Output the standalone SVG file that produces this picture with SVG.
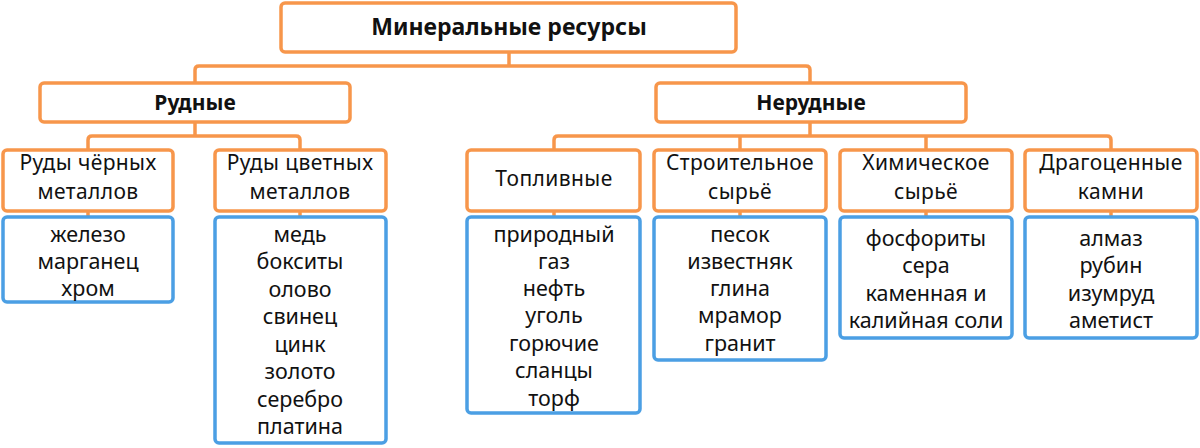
<svg xmlns="http://www.w3.org/2000/svg" width="1200" height="448" viewBox="0 0 1200 448">
<style>
.o{fill:#fff;stroke:#F7964B;stroke-width:3.5}
.b{fill:#fff;stroke:#4B9FE4;stroke-width:3.5}
.c{fill:none;stroke:#F7964B;stroke-width:3.5;stroke-linejoin:round}
text{font-family:"Noto Sans","Open Sans",sans-serif;font-size:21.5px;fill:#111;text-anchor:middle}
.s{font-size:21px;letter-spacing:0.4px}
.h{font-weight:bold;font-size:21px}
.t{font-weight:bold;font-size:23px}
</style>
<rect width="1200" height="448" fill="#fff"/>
<g id="connectors">
<path class="c" d="M509,52V66 M195,83V70Q195,66 199,66H806Q810,66 810,70V83"/>
<path class="c" d="M195,122V136 M88,150V140Q88,136 92,136H296Q300,136 300,140V150"/>
<path class="c" d="M810,122V136 M554,150V140Q554,136 558,136H1107Q1111,136 1111,140V150 M740,136V150 M926,136V150"/>
<path class="c" d="M88,211V217 M300,211V217 M554,211V217 M740,211V217 M926,211V217 M1111,211V217"/>
</g>
<g id="root"><rect class="o" x="281" y="3" width="455" height="49" rx="4"/><text class="t" x="509" y="35">Минеральные ресурсы</text></g>
<g id="rudnye"><rect class="o" x="40" y="83" width="310" height="39" rx="4"/><text class="h" x="195" y="110">Рудные</text></g>
<g id="nerudnye"><rect class="o" x="656" y="83" width="310" height="39" rx="4"/><text class="h" x="811" y="110">Нерудные</text></g>
<g id="chernye"><rect class="o" x="3" y="150" width="170" height="61" rx="4"/><text class="s" x="88" y="170">Руды чёрных</text><text class="s" x="88" y="199">металлов</text></g>
<g id="tsvetnye"><rect class="o" x="215" y="150" width="171" height="61" rx="4"/><text class="s" x="300" y="170">Руды цветных</text><text class="s" x="300" y="199">металлов</text></g>
<g id="toplivnye"><rect class="o" x="467" y="150" width="173" height="61" rx="4"/><text class="s" x="554" y="186">Топливные</text></g>
<g id="stroitelnoe"><rect class="o" x="654" y="150" width="172" height="61" rx="4"/><text class="s" x="740" y="170">Строительное</text><text class="s" x="740" y="199">сырьё</text></g>
<g id="himicheskoe"><rect class="o" x="840" y="150" width="172" height="61" rx="4"/><text class="s" x="926" y="170">Химическое</text><text class="s" x="926" y="199">сырьё</text></g>
<g id="dragotsennye"><rect class="o" x="1025" y="150" width="172" height="61" rx="4"/><text class="s" x="1111" y="170">Драгоценные</text><text class="s" x="1111" y="199">камни</text></g>
<g id="chernye-list"><rect class="b" x="3" y="217" width="170" height="85" rx="4"/>
<text x="88" y="242">железо</text><text x="88" y="269">марганец</text><text x="88" y="296">хром</text></g>
<g id="tsvetnye-list"><rect class="b" x="215" y="217" width="171" height="226" rx="4"/>
<text x="300" y="242">медь</text><text x="300" y="269">бокситы</text><text x="300" y="297">олово</text><text x="300" y="324">свинец</text><text x="300" y="352">цинк</text><text x="300" y="379">золото</text><text x="300" y="407">серебро</text><text x="300" y="434">платина</text></g>
<g id="toplivnye-list"><rect class="b" x="467" y="217" width="173" height="196" rx="4"/>
<text x="554" y="242">природный</text><text x="554" y="269">газ</text><text x="554" y="296">нефть</text><text x="554" y="323">уголь</text><text x="554" y="351">горючие</text><text x="554" y="378">сланцы</text><text x="554" y="406">торф</text></g>
<g id="stroitelnoe-list"><rect class="b" x="654" y="217" width="172" height="143" rx="4"/>
<text x="740" y="242">песок</text><text x="740" y="269">известняк</text><text x="740" y="296">глина</text><text x="740" y="323">мрамор</text><text x="740" y="351">гранит</text></g>
<g id="himicheskoe-list"><rect class="b" x="840" y="217" width="172" height="121" rx="4"/>
<text x="926" y="246">фосфориты</text><text x="926" y="273">сера</text><text x="926" y="301">каменная и</text><text x="926" y="328">калийная соли</text></g>
<g id="dragotsennye-list"><rect class="b" x="1025" y="217" width="172" height="121" rx="4"/>
<text x="1111" y="246">алмаз</text><text x="1111" y="273">рубин</text><text x="1111" y="301">изумруд</text><text x="1111" y="328">аметист</text></g>
</svg>
